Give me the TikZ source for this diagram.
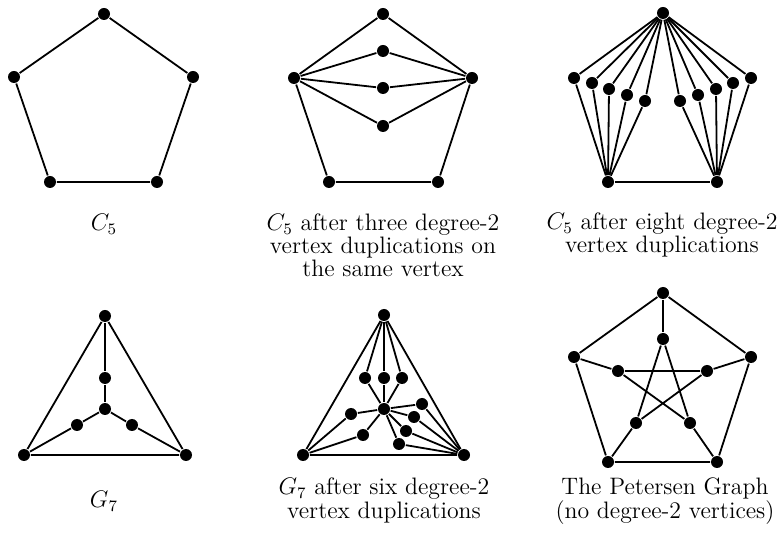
\documentclass[tikz,border=0pt]{standalone}
\tikzset{
  vtx/.style={circle,fill,inner sep=0pt,minimum size=6pt},
  lbl/.style={align=center,anchor=base,font=\fontsize{11.9}{11.6}\selectfont}
}
\begin{document}
\begin{tikzpicture}[x=0.5pt,y=-0.5pt,line width=0.9pt]
\useasboundingbox (0,0) rectangle (782,539);

% C5
\node[vtx] (p1) at (104,14) {};
\node[vtx] (p2) at (14,77) {};
\node[vtx] (p3) at (193,77) {};
\node[vtx] (p4) at (50,182) {};
\node[vtx] (p5) at (157,182) {};
\draw (p1)--(p2)--(p4)--(p5)--(p3)--(p1);
\node[lbl] (l1) at (104,231) {$C_5$};

% C5, three duplications of the top vertex
\node[vtx] (q1) at (383,14) {};
\node[vtx] (q2) at (294,78) {};
\node[vtx] (q3) at (472,78) {};
\node[vtx] (q4) at (329,182) {};
\node[vtx] (q5) at (438,182) {};
\foreach \i/\y in {1/51,2/88,3/126} {
  \node[vtx] (qd\i) at (383,\y) {};
  \draw (q2)--(qd\i)--(q3);
}
\draw (q2)--(q1)--(q3);
\draw (q2)--(q4)--(q5)--(q3);
\node[lbl] (l2) at (383,277) {$C_5$ after three degree-2\\vertex duplications on\\the same vertex};

% C5, eight duplications
\node[vtx] (r1) at (663,13) {};
\node[vtx] (r4) at (608,182) {};
\node[vtx] (r5) at (717,182) {};
\foreach \i/\x/\y in {1/574/78,2/592/83,3/609/89,4/627/95,5/645/101} {
  \node[vtx] (rl\i) at (\x,\y) {};
  \draw (r1)--(rl\i)--(r4);
}
\foreach \i/\x/\y in {1/680/101,2/698/95,3/716/89,4/733/83,5/751/78} {
  \node[vtx] (rr\i) at (\x,\y) {};
  \draw (r1)--(rr\i)--(r5);
}
\draw (r4)--(r5);
\node[lbl] (l3) at (662,253) {$C_5$ after eight degree-2\\vertex duplications};

% G7
\node[vtx] (g1) at (105,316) {};
\node[vtx] (g2) at (105,378) {};
\node[vtx] (g3) at (105,409) {};
\node[vtx] (g4) at (77,425) {};
\node[vtx] (g5) at (132,425) {};
\node[vtx] (g6) at (24,455) {};
\node[vtx] (g7) at (186,455) {};
\draw (g1)--(g6)--(g7)--(g1);
\draw (g1)--(g2)--(g3);
\draw (g3)--(g4)--(g6);
\draw (g3)--(g5)--(g7);
\node[lbl] (l4) at (104,508) {$G_7$};

% G7, six duplications
\node[vtx] (h1) at (384,315) {};
\node[vtx] (h2) at (303,455) {};
\node[vtx] (h3) at (464,455) {};
\node[vtx] (h4) at (384,409) {};
\draw (h1)--(h2)--(h3)--(h1);
\foreach \i/\x/\y in {1/365/378,2/384/378,3/402/378} {
  \node[vtx] (hu\i) at (\x,\y) {};
  \draw (h1)--(hu\i)--(h4);
}
\foreach \i/\x/\y in {1/351/414,2/363/435} {
  \node[vtx] (hl\i) at (\x,\y) {};
  \draw (h4)--(hl\i)--(h2);
}
\foreach \i/\x/\y in {1/422/404,2/414/417,3/406/431,4/399/444} {
  \node[vtx] (hr\i) at (\x,\y) {};
  \draw (h4)--(hr\i)--(h3);
}
\node[lbl] (l5) at (384,518) {$G_7$ after six degree-2\\vertex duplications};

% Petersen graph
\node[vtx] (o1) at (663,293) {};
\node[vtx] (o2) at (574,357) {};
\node[vtx] (o3) at (751,357) {};
\node[vtx] (o4) at (608,462) {};
\node[vtx] (o5) at (717,462) {};
\node[vtx] (i1) at (663,339) {};
\node[vtx] (i2) at (618,371) {};
\node[vtx] (i3) at (707,371) {};
\node[vtx] (i4) at (636,423) {};
\node[vtx] (i5) at (690,423) {};
\draw (o1)--(o2)--(o4)--(o5)--(o3)--(o1);
\foreach \k in {1,...,5} \draw (o\k)--(i\k);
\draw (i1)--(i4)--(i3)--(i2)--(i5)--(i1);
\node[lbl] (l6) at (665,518) {The Petersen Graph\\(no degree-2 vertices)};
\end{tikzpicture}
\end{document}
